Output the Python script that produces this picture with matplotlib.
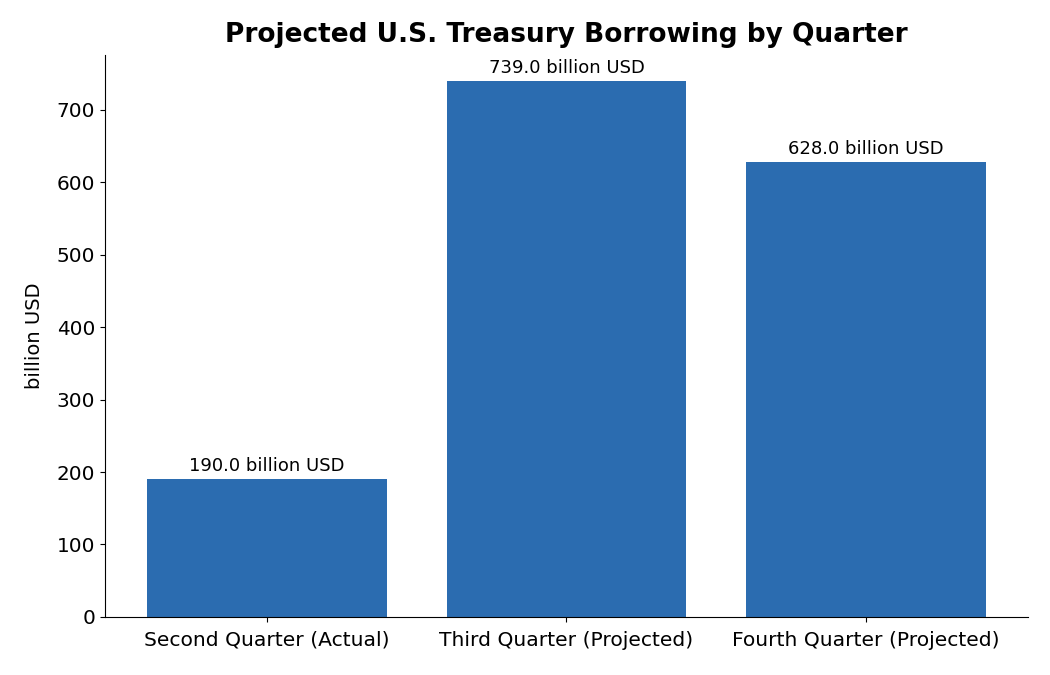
import matplotlib
matplotlib.use('Agg')
import matplotlib.pyplot as plt

quarters = ['Second Quarter (Actual)', 'Third Quarter (Projected)', 'Fourth Quarter (Projected)']
borrowing = [190.0, 739.0, 628.0]

fig = plt.figure(figsize=(10.5, 6.75), dpi=100)
ax = fig.add_axes([0.1, 0.086, 0.879, 0.833])

bars = ax.bar(range(len(quarters)), borrowing, width=0.8, color='#2b6cb0')
for b, v in zip(bars, borrowing):
    ax.annotate(f'{v:.1f} billion USD', (b.get_x() + b.get_width() / 2, v),
                xytext=(0, 3), textcoords='offset points',
                ha='center', va='bottom', fontsize=13)

ax.set_xticks(range(len(quarters)))
ax.set_xticklabels(quarters, fontsize=14.6)
ax.tick_params(axis='x', pad=6.5)
ax.tick_params(axis='y', labelsize=14.4)
ax.set_ylabel('billion USD', fontsize=14, labelpad=9)
ax.set_ylim(0, max(borrowing) * 1.05)
ax.set_title('Projected U.S. Treasury Borrowing by Quarter', fontsize=19, fontweight='bold', pad=9)
ax.spines['top'].set_visible(False)
ax.spines['right'].set_visible(False)

fig.savefig('out.png', dpi=100)
